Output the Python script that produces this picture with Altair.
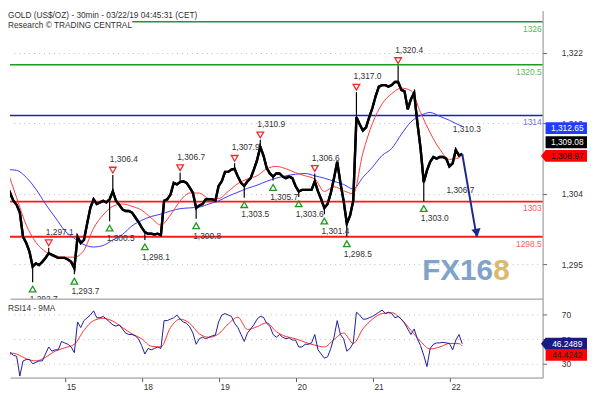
import altair as alt
import pandas as pd

TITLE_1 = "GOLD (US$/OZ) - 30min - 03/22/19 04:45:31 (CET)"
TITLE_2 = "Research © TRADING CENTRAL"
RSI_TITLE = "RSI14 - 9MA"

day_labels = ["15", "18", "19", "20", "21", "22"]
day_ticks = [1, 2, 3, 4, 5, 6]

T_START = 0.2436      # time of first bar (trading days, '15' = 1)
BARS_PER_DAY = 24

close = [
    1302.9, 1304.1, 1303.1, 1302.6, 1301.6, 1298.5, 1297.7, 1296.6, 1294.7, 1295.1,
    1294.9, 1295.3, 1295.8, 1296.4, 1296.2, 1296.0, 1295.8, 1295.8, 1295.8, 1295.6,
    1295.3, 1294.5, 1298.5, 1297.7, 1298.1, 1300.2, 1302.2, 1303.3, 1302.7, 1302.9,
    1303.1, 1302.9, 1303.3, 1304.3, 1303.1, 1302.6, 1302.0, 1301.8, 1301.8, 1301.6,
    1301.0, 1300.4, 1299.7, 1299.1, 1298.9, 1298.9, 1298.8, 1298.9, 1298.7, 1303.1,
    1303.3, 1303.9, 1305.4, 1305.2, 1305.5, 1305.6, 1305.4, 1304.8, 1304.1, 1302.2,
    1302.5, 1302.7, 1303.3, 1303.3, 1303.3, 1303.1, 1305.0, 1305.6, 1306.8, 1306.8,
    1307.1, 1307.2, 1306.2, 1305.4, 1305.0, 1305.6, 1306.0, 1307.1, 1308.3, 1310.0,
    1308.9, 1307.3, 1306.6, 1306.2, 1306.6, 1306.6, 1306.2, 1306.0, 1306.2, 1306.0,
    1305.0, 1304.3, 1304.5, 1304.5, 1304.5, 1304.5, 1305.6, 1304.3, 1303.3, 1302.2,
    1302.7, 1304.1, 1306.0, 1308.1, 1305.4, 1303.1, 1300.2, 1301.2, 1303.1, 1313.8,
    1312.9, 1312.1, 1312.5, 1313.8, 1315.0, 1316.5, 1317.7, 1317.9, 1317.9, 1317.7,
    1317.9, 1318.3, 1318.3, 1317.3, 1317.1, 1314.8, 1316.1, 1316.9, 1313.1, 1309.8,
    1305.5, 1307.0, 1308.1, 1308.7, 1308.5, 1308.7, 1308.7, 1308.5, 1307.5, 1307.9,
    1309.6, 1308.9, 1309.1,
]

ma_idx = list(range(0, 142, 3)) + [142]
red_ma = [
    1307.1, 1303.5, 1300.0, 1297.8, 1296.6, 1296.1, 1295.9, 1295.9, 1296.8, 1299.6,
    1301.3, 1302.4, 1302.7, 1302.4, 1301.9, 1300.9, 1300.0, 1301.3, 1303.1, 1304.1,
    1304.1, 1303.4, 1303.4, 1304.3, 1305.3, 1305.9, 1306.3, 1307.2, 1307.5, 1307.2,
    1306.7, 1306.3, 1305.9, 1304.3, 1304.9, 1304.4, 1304.0, 1309.2, 1313.0, 1315.5,
    1316.8, 1317.5, 1317.2, 1314.4, 1311.8, 1309.7, 1308.4, 1308.6, 1308.97,
]
blue_ma = [
    1307.1, 1307.0, 1306.1, 1304.6, 1302.7, 1301.0, 1299.3, 1298.3, 1297.5, 1297.2,
    1297.4, 1298.1, 1298.8, 1299.9, 1300.6, 1301.1, 1301.4, 1301.8, 1302.1, 1302.2,
    1302.3, 1302.7, 1303.1, 1303.7, 1304.2, 1304.7, 1305.1, 1305.6, 1306.0, 1306.3,
    1306.5, 1306.6, 1306.3, 1306.0, 1305.6, 1305.2, 1304.6, 1306.1, 1307.4, 1308.9,
    1309.8, 1311.6, 1313.2, 1314.0, 1314.4, 1313.9, 1313.4, 1312.8, 1312.65,
]

rsi = [
    27.0, 39.0, 36.8, 36.1, 20.0, 32.3, 33.4, 33.4, 30.0, 31.1,
    32.3, 32.3, 37.9, 43.6, 40.2, 41.3, 41.3, 48.1, 46.9, 45.8,
    43.6, 39.0, 63.9, 59.4, 65.0, 67.3, 69.5, 72.9, 67.3, 67.3,
    68.4, 66.2, 63.9, 61.6, 60.5, 61.6, 58.2, 54.9, 53.7, 53.7,
    52.6, 50.3, 44.7, 37.9, 42.4, 41.3, 42.4, 43.6, 42.4, 65.0,
    65.0, 66.2, 67.3, 69.5, 66.2, 63.9, 62.8, 60.0, 54.9, 45.8,
    50.3, 51.5, 50.3, 51.5, 52.6, 53.3, 63.9, 69.5, 70.7, 69.5,
    68.4, 62.8, 59.4, 53.7, 48.1, 54.9, 58.2, 61.6, 66.2, 68.4,
    67.7, 62.8, 60.5, 53.7, 51.5, 53.7, 51.5, 50.3, 51.0, 49.2,
    49.2, 43.6, 43.6, 45.8, 45.8, 46.9, 53.7, 41.3, 37.9, 34.5,
    35.6, 42.4, 51.5, 65.0, 53.7, 50.3, 40.2, 42.4, 46.9, 71.8,
    69.5, 66.2, 66.2, 67.3, 68.4, 70.0, 71.8, 73.6, 70.7, 71.8,
    70.7, 67.3, 68.4, 66.2, 62.8, 58.2, 53.7, 58.2, 50.3, 44.7,
    36.8, 27.7, 42.4, 45.8, 46.9, 46.9, 47.4, 46.9, 46.5, 41.3,
    49.2, 53.7, 46.2,
]
rsi_ma = [
    39.0, 37.9, 34.1, 32.3, 35.2, 40.2, 42.9, 45.8, 57.1, 65.0,
    66.8, 64.6, 59.4, 54.2, 50.3, 44.2, 43.6, 59.4, 66.2, 62.8,
    54.2, 51.5, 54.2, 62.3, 67.7, 57.8, 60.0, 63.2, 56.0, 52.1,
    50.3, 47.4, 45.1, 43.6, 49.7, 54.9, 46.5, 58.2, 66.2, 70.7,
    71.4, 66.2, 57.1, 48.1, 42.0, 43.6, 46.5, 46.3, 44.4,
]

hi_idx = [13, 33, 54, 71, 79, 96, 109, 122]
hi_val = [1297.1, 1306.4, 1306.7, 1307.9, 1310.9, 1306.6, 1317.0, 1320.4]
lo_idx = [8, 21, 32, 43, 59, 74, 83, 91, 99, 106, 130]
lo_val = [1292.7, 1293.7, 1300.5, 1298.1, 1300.8, 1303.5, 1305.7, 1303.6, 1301.4, 1298.5, 1303.0]
pend_hi_idx, pend_hi_val = [140], [1310.3]
pend_lo_idx, pend_lo_val = [138], [1306.7]

level_values = [1326, 1320.5, 1314, 1303, 1298.5]
level_line_colors = ["#1f9a1f", "#1f9a1f", "#1c1cd0", "#ff1a1a", "#ff1a1a"]
level_text_colors = ["#59b959", "#59b959", "#6d6dff", "#ff5c5c", "#ff5c5c"]
level_widths = [1.5, 1.5, 1.5, 2, 2]

arrow_end_idx = 146.5
arrow_end_val = 1298.5

last_blue_ma, last_close, last_red_ma = 1312.65, 1309.08, 1308.97
last_rsi, last_rsi_ma = 46.2489, 44.4242

W, H_MAIN, H_RSI = 540, 292, 80


def t_of(i):
    return T_START + i / BARS_PER_DAY


xs = alt.Scale(domain=[0.282, 7.205], nice=False, zero=False)
ys = alt.Scale(domain=[1290.595, 1327.42], nice=False, zero=False)
rs = alt.Scale(domain=[18.8, 82.8], nice=False, zero=False)

label_expr = "[" + ",".join(f"'{d}'" for d in day_labels) + "][datum.value - 1]"

XA_MAIN = alt.Axis(labels=False, ticks=False, grid=False, domain=True, domainColor="#8a8a8a", title=None)
YA_MAIN = alt.Axis(orient="right", values=[1295, 1304, 1313, 1322], format=",.0f", labelFontSize=8.5,
                   labelColor="#333333", tickSize=4, tickColor="#666666", domainColor="#8a8a8a",
                   grid=True, gridColor="#bdbdbd", gridDash=[1, 4], labelPadding=15, title=None)
XA_RSI = alt.Axis(values=day_ticks, labelExpr=label_expr, tickSize=4, tickColor="#555555",
                  domainColor="#8a8a8a", labelAlign="left", labelFontSize=8.5, labelColor="#333333",
                  labelPadding=1, labelOffset=1, grid=False, title=None)
YA_RSI = alt.Axis(orient="right", values=[30, 50, 70], labelFontSize=8.5, labelColor="#333333",
                  tickSize=4, tickColor="#666666", domainColor="#8a8a8a", grid=True,
                  gridColor="#bdbdbd", gridDash=[1, 4], labelPadding=15, title=None)


def XM():
    return alt.X("t:Q", scale=xs, axis=XA_MAIN)


def YM(field):
    return alt.Y(field, scale=ys, axis=YA_MAIN)


def XR():
    return alt.X("t:Q", scale=xs, axis=XA_RSI)


def YR(field):
    return alt.Y(field, scale=rs, axis=YA_RSI)


price_df = pd.DataFrame({"t": [t_of(i) for i in range(len(close))], "p": close})
ma_df = pd.DataFrame({"t": [t_of(i) for i in ma_idx], "red": red_ma, "blue": blue_ma})
hi_df = pd.DataFrame({"t": [t_of(i) for i in hi_idx], "v": hi_val,
                      "c": [close[i] for i in hi_idx],
                      "lab": [f"{v:,.1f}" for v in hi_val]})
lo_df = pd.DataFrame({"t": [t_of(i) for i in lo_idx], "v": lo_val,
                      "c": [close[i] for i in lo_idx],
                      "lab": [f"{v:,.1f}" for v in lo_val]})
phi_df = pd.DataFrame({"t": [t_of(i) for i in pend_hi_idx], "v": pend_hi_val,
                       "lab": [f"{v:,.1f}" for v in pend_hi_val]})
plo_df = pd.DataFrame({"t": [t_of(i) for i in pend_lo_idx], "v": pend_lo_val,
                       "lab": [f"{v:,.1f}" for v in pend_lo_val]})
lvl_df = pd.DataFrame({"v": level_values, "c": level_line_colors, "tc": level_text_colors,
                       "w": level_widths, "lab": [f"{v:g}" for v in level_values]})
arrow_df = pd.DataFrame({"t": [t_of(len(close) - 1), t_of(arrow_end_idx)],
                         "p": [close[-1], arrow_end_val]})

# ---------------- main panel ----------------
level_rules = alt.Chart(lvl_df).mark_rule().encode(
    y=YM("v:Q"),
    color=alt.Color("c:N", scale=None),
    strokeWidth=alt.StrokeWidth("w:Q", scale=None),
)
level_text = alt.Chart(lvl_df).mark_text(align="right", baseline="middle", fontSize=8.5, yOffset=7).encode(
    x=alt.value(W - 1),
    y=YM("v:Q"),
    text="lab:N",
    color=alt.Color("tc:N", scale=None),
)

title_bg = alt.Chart(pd.DataFrame({"a": [0]})).mark_rect(color="white").encode(
    x=alt.value(0), x2=alt.value(124), y=alt.value(9), y2=alt.value(22))
title_1 = alt.Chart(pd.DataFrame({"s": [TITLE_1]})).mark_text(
    align="left", baseline="middle", fontSize=8.4, color="#333333").encode(
    x=alt.value(-2), y=alt.value(4), text="s:N")
title_2 = alt.Chart(pd.DataFrame({"s": [TITLE_2]})).mark_text(
    align="left", baseline="middle", fontSize=8.4, color="#333333").encode(
    x=alt.value(-2), y=alt.value(15), text="s:N")

blue_line = alt.Chart(ma_df).mark_line(color="#3a3aff", strokeWidth=1, interpolate="monotone",
                                       clip=True).encode(x=XM(), y=YM("blue:Q"))
red_line = alt.Chart(ma_df).mark_line(color="#ff3b3b", strokeWidth=1, interpolate="monotone",
                                      clip=True).encode(x=XM(), y=YM("red:Q"))

hi_wick = alt.Chart(hi_df).mark_rule(color="#000000", strokeWidth=1.2).encode(
    x=XM(), y=YM("v:Q"), y2="c:Q")
lo_wick = alt.Chart(lo_df).mark_rule(color="#000000", strokeWidth=1.2).encode(
    x=XM(), y=YM("v:Q"), y2="c:Q")
price_line = alt.Chart(price_df).mark_line(color="#000000", strokeWidth=2.4, clip=True).encode(
    x=XM(), y=YM("p:Q"))

hi_tri = alt.Chart(hi_df).mark_point(shape="triangle-down", filled=False, color="#ee2b2b",
                                     strokeWidth=1.3, size=45, opacity=1, yOffset=-5).encode(
    x=XM(), y=YM("v:Q"))
lo_tri = alt.Chart(lo_df).mark_point(shape="triangle-up", filled=False, color="#1c9a1c",
                                     strokeWidth=1.3, size=45, opacity=1, yOffset=7).encode(
    x=XM(), y=YM("v:Q"))
hi_lab = alt.Chart(hi_df).mark_text(align="left", baseline="middle", fontSize=8.5, color="#333333",
                                    dx=-3, yOffset=-16).encode(
    x=XM(), y=YM("v:Q"), text="lab:N")
lo_lab = alt.Chart(lo_df).mark_text(align="left", baseline="middle", fontSize=8.5, color="#333333",
                                    dx=-3, yOffset=17, clip=True).encode(
    x=XM(), y=YM("v:Q"), text="lab:N")
phi_lab = alt.Chart(phi_df).mark_text(align="left", baseline="middle", fontSize=8.5, color="#333333",
                                      dx=-3, yOffset=-16).encode(
    x=XM(), y=YM("v:Q"), text="lab:N")
plo_lab = alt.Chart(plo_df).mark_text(align="left", baseline="middle", fontSize=8.5, color="#333333",
                                      dx=-3, yOffset=18).encode(
    x=XM(), y=YM("v:Q"), text="lab:N")

arrow_line = alt.Chart(arrow_df).mark_line(color="#1a2a8c", strokeWidth=2).encode(
    x=XM(), y=YM("p:Q"))
arrow_head = alt.Chart(arrow_df.iloc[[1]]).mark_point(
    shape="triangle-down", filled=True, color="#1a2a8c", size=90, opacity=1, angle=350, yOffset=-4).encode(
    x=XM(), y=YM("p:Q"))

wm1 = alt.Chart(pd.DataFrame({"s": ["FX16"]})).mark_text(
    align="left", baseline="middle", fontSize=30, fontWeight="bold", color="#6a93c0", opacity=0.85).encode(
    x=alt.value(418), y=alt.value(264), text="s:N")
wm2 = alt.Chart(pd.DataFrame({"s": ["8"]})).mark_text(
    align="left", baseline="middle", fontSize=30, fontWeight="bold", color="#d6b35e", opacity=0.9).encode(
    x=alt.value(490), y=alt.value(264), text="s:N")

BOX_X = W + 24
BOX_W = 42
RECT = "M-1,-0.2857L1,-0.2857L1,0.2857L-1,0.2857Z"
PTR = "M-1.22,0L-1,-0.2857L1,-0.2857L1,0.2857L-1,0.2857Z"


def value_box(value, label, fill, tcolor, yoff, pointer, yenc):
    df = pd.DataFrame({"v": [value], "lab": [label]})
    sym = alt.Chart(df).mark_point(shape=PTR if pointer else RECT, size=BOX_W ** 2, filled=True,
                                   color=fill, opacity=1, strokeWidth=0, yOffset=yoff).encode(
        x=alt.value(BOX_X), y=yenc("v:Q"))
    txt = alt.Chart(df).mark_text(align="center", baseline="middle", fontSize=8.5, color=tcolor,
                                  yOffset=yoff).encode(
        x=alt.value(BOX_X + 1), y=yenc("v:Q"), text="lab:N")
    return [sym, txt]


main_layers = [price_line, level_rules, level_text, title_bg, title_1, title_2,
               blue_line, red_line, hi_wick, lo_wick, price_line,
               hi_tri, lo_tri, hi_lab, lo_lab, phi_lab, plo_lab, arrow_line, arrow_head, wm1, wm2]
main_layers += value_box(last_blue_ma, f"{last_blue_ma:,.2f}", "#1f3cff", "white", 2, False, YM)
main_layers += value_box(last_close, f"{last_close:,.2f}", "#000000", "white", -12, False, YM)
main_layers += value_box(last_red_ma, f"{last_red_ma:,.2f}", "#ff0000", "#111111", 1, True, YM)

main = alt.layer(*main_layers).properties(width=W, height=H_MAIN)

# ---------------- RSI panel ----------------
rsi_df = pd.DataFrame({"t": [t_of(i) for i in range(len(rsi))], "r": rsi})
rsi_ma_df = pd.DataFrame({"t": [t_of(i) for i in ma_idx], "r": rsi_ma})

rsi_line = alt.Chart(rsi_df).mark_line(color="#1c1c9c", strokeWidth=1, clip=True).encode(
    x=XR(), y=YR("r:Q"))
rsi_ma_line = alt.Chart(rsi_ma_df).mark_line(color="#ff3030", strokeWidth=1, interpolate="monotone",
                                             clip=True).encode(x=XR(), y=YR("r:Q"))
rsi_title = alt.Chart(pd.DataFrame({"s": [RSI_TITLE]})).mark_text(
    align="left", baseline="middle", fontSize=8.4, color="#333333").encode(
    x=alt.value(-2), y=alt.value(10), text="s:N")

rsi_layers = [rsi_ma_line, rsi_line, rsi_title]
rsi_layers += value_box(last_rsi, f"{last_rsi:.4f}", "#1a1a86", "white", 0, True, YR)
rsi_layers += value_box(last_rsi_ma, f"{last_rsi_ma:.4f}", "#ff0000", "#222222", 9, False, YR)

rsi_panel = alt.layer(*rsi_layers).properties(width=W, height=H_RSI)

chart = alt.vconcat(main, rsi_panel, spacing=0).resolve_scale(
    x="independent", y="independent").properties(padding=0).configure(
    font="Liberation Sans").configure_view(stroke=None)

chart.save("out.html", embed_options={"renderer": "svg", "actions": False})
